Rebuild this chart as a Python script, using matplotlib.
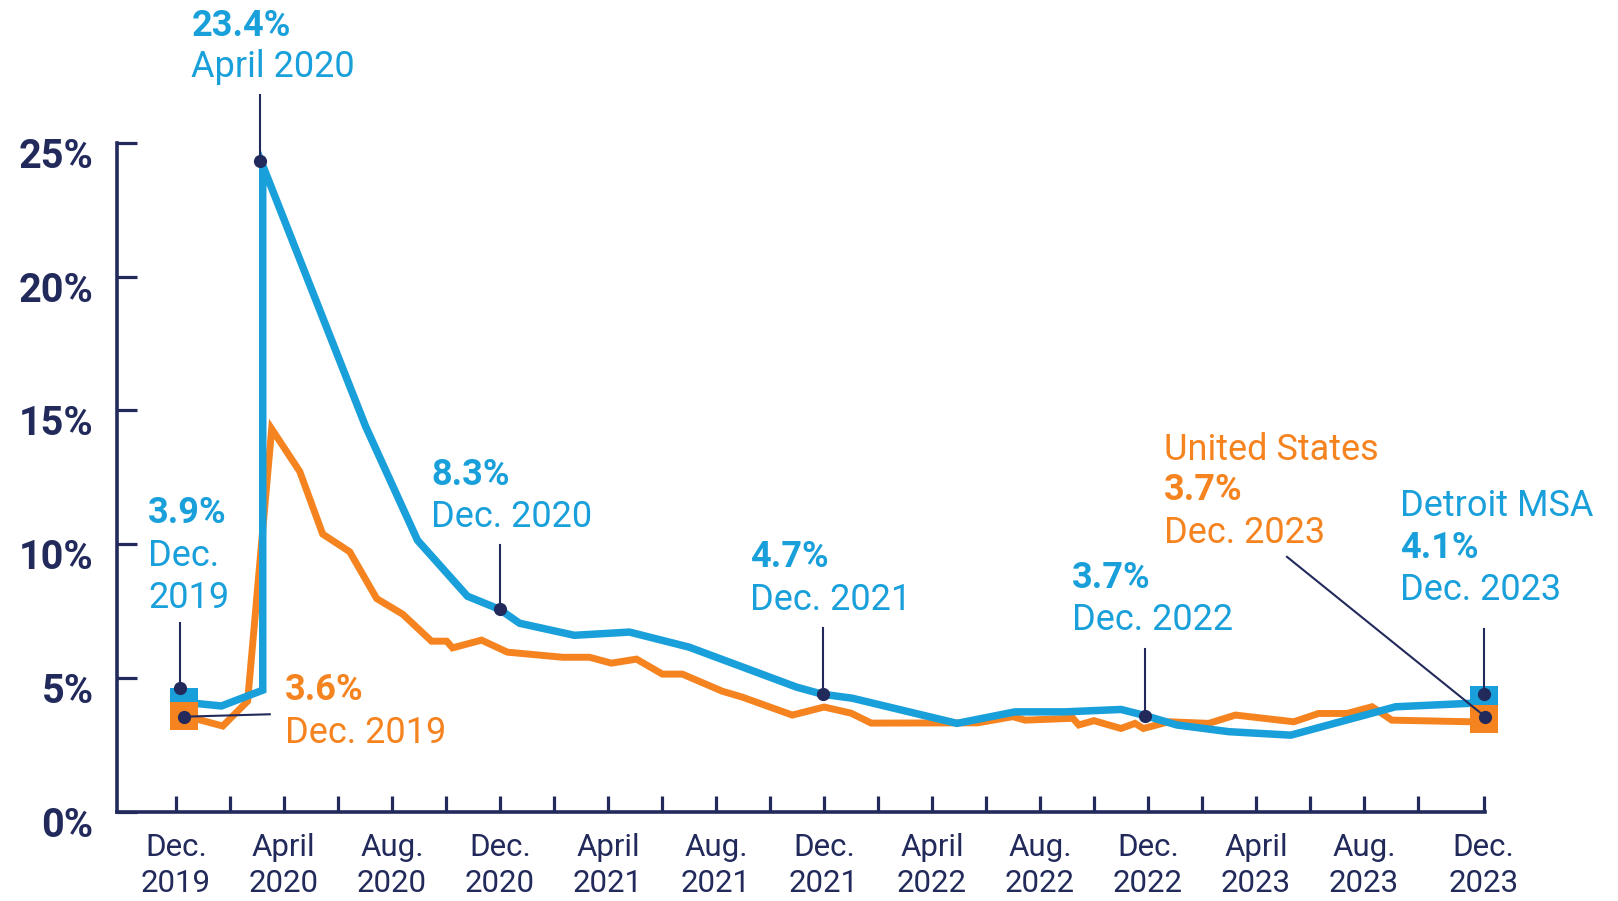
import matplotlib
matplotlib.use("Agg")
import matplotlib.pyplot as plt
from matplotlib.transforms import ScaledTranslation

BLUE = "#19a0da"
ORANGE = "#f5831f"
NAVY = "#222a5c"
FONT = ["Roboto", "DejaVu Sans"]

# unemployment rate (%), x = months after Dec. 2019 as placed on the original chart
detroit_month = [0.3, 1.69, 3.22, 3.22, 7.03, 8.95, 10.8, 11.99, 12.73, 14.76, 16.8,
                 19.0, 23.0, 23.94, 25.05, 28.93, 31.08, 32.93, 35.0, 35.9, 37.07,
                 38.99, 41.29, 45.17, 47.95, 48.43]
detroit_rate = [4.1, 3.96, 4.55, 24.15, 14.4, 10.15, 8.06, 7.57, 7.05, 6.6, 6.72,
                6.16, 4.66, 4.4, 4.25, 3.31, 3.74, 3.74, 3.83, 3.6, 3.25,
                3.0, 2.87, 3.93, 4.06, 4.2]

us_month = [0.3, 1.74, 2.66, 3.55, 4.59, 5.44, 6.44, 7.44, 8.4, 9.47, 10.03, 10.25,
            11.32, 12.28, 14.32, 15.32, 16.13, 17.06, 18.02, 18.76, 20.24, 20.98,
            22.83, 24.01, 25.01, 25.75, 29.69, 31.0, 31.45, 33.22, 33.44, 34.0,
            35.0, 35.52, 35.83, 36.77, 38.25, 39.24, 41.4, 42.32, 43.37, 44.3,
            45.03, 47.94, 48.43]
us_rate = [3.6, 3.21, 4.14, 14.31, 12.72, 10.38, 9.72, 7.97, 7.39, 6.38, 6.38, 6.13,
           6.42, 5.97, 5.78, 5.78, 5.56, 5.71, 5.15, 5.15, 4.51, 4.29,
           3.62, 3.92, 3.69, 3.32, 3.33, 3.56, 3.43, 3.5, 3.25, 3.41,
           3.12, 3.31, 3.12, 3.37, 3.31, 3.62, 3.37, 3.68, 3.68, 3.93,
           3.43, 3.37, 3.47]

tick_month = list(range(0, 48, 2)) + [48.43]
tick_names = ["Dec.\n2019", "April\n2020", "Aug.\n2020", "Dec.\n2020", "April\n2021",
              "Aug.\n2021", "Dec.\n2021", "April\n2022", "Aug.\n2022", "Dec.\n2022",
              "April\n2023", "Aug.\n2023", "Dec.\n2023"]
y_ticks = [0, 5, 10, 15, 20, 25]

fig = plt.figure(figsize=(16.18, 9.01), dpi=100)
ax = fig.add_axes([0.0721, 0.0988, 0.9176 - 0.0721, 0.8416 - 0.0988])

ax.plot(us_month, us_rate, color=ORANGE, lw=5.0, solid_joinstyle="miter",
        solid_capstyle="butt", zorder=3, clip_on=False)
ax.plot(detroit_month, detroit_rate, color=BLUE, lw=5.4, solid_joinstyle="miter",
        solid_capstyle="butt", zorder=4, clip_on=False)

# end squares
for i in (0, -1):
    ax.plot(detroit_month[i], detroit_rate[i], "s", ms=20, color=BLUE,
            mew=0, zorder=5, clip_on=False)
    ax.plot(us_month[i], us_rate[i], "s", ms=20, color=ORANGE,
            mew=0, zorder=6, clip_on=False)

# callout leaders: (dot x, dot y, line end x, line end y)
leaders = [(3.13, 24.33, 3.13, 26.8),
           (0.17, 4.62, 0.17, 7.05),
           (0.31, 3.56, 3.48, 3.65),
           (11.99, 7.57, 11.99, 9.96),
           (23.95, 4.40, 23.95, 6.87),
           (35.90, 3.60, 35.90, 6.08),
           (48.43, 4.39, 48.43, 6.85),
           (48.49, 3.56, 41.15, 9.53)]
for x0, y0, x1, y1 in leaders:
    ax.plot([x0, x1], [y0, y1], color=NAVY, lw=1.5, zorder=7, clip_on=False)
    ax.plot(x0, y0, "o", ms=9.5, color=NAVY, mew=0, zorder=8, clip_on=False)


def callout(x, lines, color):
    # lines: (text, baseline y, bold?)
    for txt, base, bold in lines:
        ax.text(x, base, txt, color=color, fontsize=26, family=FONT,
                fontweight="bold" if bold else "normal", ha="left",
                va="baseline", zorder=9)


callout(0.58, [("23.4%", 29.0, True), ("April 2020", 27.46, False)], BLUE)
callout(-1.02, [("3.9%", 10.8, True), ("Dec.", 9.18, False), ("2019", 7.63, False)], BLUE)
callout(4.03, [("3.6%", 4.18, True), ("Dec. 2019", 2.57, False)], ORANGE)
callout(9.46, [("8.3%", 12.22, True), ("Dec. 2020", 10.63, False)], BLUE)
callout(21.27, [("4.7%", 9.14, True), ("Dec. 2021", 7.54, False)], BLUE)
callout(33.19, [("3.7%", 8.36, True), ("Dec. 2022", 6.79, False)], BLUE)
callout(36.59, [("United States", 13.16, False), ("3.7%", 11.64, True),
                ("Dec. 2023", 10.05, False)], ORANGE)
callout(45.35, [("Detroit MSA", 11.04, False), ("4.1%", 9.47, True),
                ("Dec. 2023", 7.91, False)], BLUE)

# axes
ax.set_xlim(-2.19, 48.47)
ax.set_ylim(0, 25)
for side in ("top", "right"):
    ax.spines[side].set_visible(False)
for side in ("left", "bottom"):
    ax.spines[side].set_color(NAVY)
    ax.spines[side].set_linewidth(2.6)
    ax.spines[side].set_capstyle("projecting")

ax.set_xticks(tick_month)
ax.set_xticklabels([tick_names[i // 2] if i % 2 == 0 else "" for i in range(len(tick_month))])
ax.set_yticks(y_ticks)
ax.set_yticklabels([f"{v}%" for v in y_ticks])

ax.tick_params(axis="x", direction="in", length=11.5, width=2.3, color=NAVY,
               pad=15, labelsize=22.5, labelcolor=NAVY)
ax.tick_params(axis="y", direction="in", length=14.5, width=2.3, color=NAVY,
               pad=16.5, labelsize=28.5, labelcolor=NAVY)
for lab in ax.get_xticklabels():
    lab.set_family(FONT)
    lab.set_fontweight("normal")
    lab.set_linespacing(1.33)
shift = ScaledTranslation(0, -0.10, fig.dpi_scale_trans)
for lab in ax.get_yticklabels():
    lab.set_family(FONT)
    lab.set_fontweight("bold")
    lab.set_transform(lab.get_transform() + shift)

fig.savefig("out.png", dpi=100)
